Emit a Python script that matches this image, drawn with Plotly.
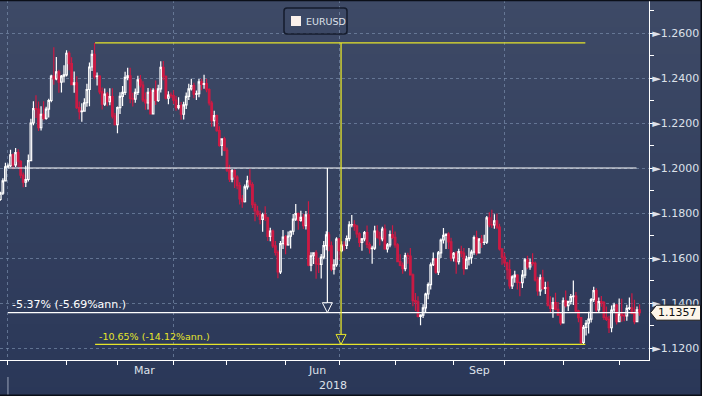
import pandas as pd
import plotly.graph_objects as go

# ---------------- data (EURUSD daily candles) ----------------
OPEN = [
    1.1860, 1.1888, 1.1943,
    1.2005, 1.2010, 1.2058, 1.2014, 1.2068,
    1.2030, 1.1968, 1.1937, 1.1949, 1.2033,
    1.2200, 1.2264, 1.2262, 1.2179, 1.2239,
    1.2221, 1.2262, 1.2300, 1.2408, 1.2396,
    1.2427, 1.2382, 1.2408, 1.2414, 1.2510,
    1.2464, 1.2370, 1.2378, 1.2268, 1.2250,
    1.2253, 1.2290, 1.2349, 1.2449, 1.2505,
    1.2406, 1.2408, 1.2338, 1.2284, 1.2328,
    1.2295, 1.2317, 1.2231, 1.2193, 1.2268,
    1.2318, 1.2336, 1.2403, 1.2410, 1.2309,
    1.2306, 1.2336, 1.2392, 1.2369, 1.2303,
    1.2289, 1.2336, 1.2241, 1.2345, 1.2300,
    1.2352, 1.2447, 1.2407, 1.2310, 1.2324,
    1.2322, 1.2302, 1.2268, 1.2277, 1.2239,
    1.2281, 1.2318, 1.2352, 1.2366, 1.2328,
    1.2330, 1.2383, 1.2372, 1.2375, 1.2348,
    1.2289, 1.2211, 1.2233, 1.2166, 1.2101,
    1.2130, 1.2078, 1.1990, 1.1951, 1.1988,
    1.1960, 1.1922, 1.1863, 1.1850, 1.1916,
    1.1943, 1.1926, 1.1837, 1.1809, 1.1794,
    1.1772, 1.1792, 1.1778, 1.1696, 1.1720,
    1.1654, 1.1625, 1.1538, 1.1664, 1.1693,
    1.1658, 1.1697, 1.1719, 1.1773, 1.1797,
    1.1767, 1.1781, 1.1744, 1.1792, 1.1568,
    1.1610, 1.1623, 1.1574, 1.1572, 1.1604,
    1.1655, 1.1703, 1.1654, 1.1551, 1.1570,
    1.1684, 1.1633, 1.1657, 1.1656, 1.1686,
    1.1747, 1.1749, 1.1742, 1.1707, 1.1669,
    1.1685, 1.1713, 1.1660, 1.1642, 1.1644,
    1.1720, 1.1693, 1.1685, 1.1728, 1.1640,
    1.1658, 1.1704, 1.1692, 1.1658, 1.1584,
    1.1567, 1.1553, 1.1611, 1.1609, 1.1525,
    1.1411, 1.1405, 1.1341, 1.1346, 1.1378,
    1.1440, 1.1482, 1.1570, 1.1596, 1.1537,
    1.1623, 1.1680, 1.1701, 1.1706, 1.1672,
    1.1601, 1.1621, 1.1584, 1.1628, 1.1622,
    1.1553, 1.1595, 1.1602, 1.1626, 1.1691,
    1.1623, 1.1684, 1.1669, 1.1670, 1.1778,
    1.1748, 1.1747, 1.1765, 1.1737, 1.1641,
    1.1604, 1.1578, 1.1548, 1.1476, 1.1516,
    1.1524, 1.1492, 1.1491, 1.1524, 1.1592,
    1.1560, 1.1580, 1.1576, 1.1503, 1.1454,
    1.1512, 1.1465, 1.1469, 1.1390, 1.1376,
    1.1402, 1.1372, 1.1346, 1.1312, 1.1410,
    1.1388, 1.1407, 1.1428, 1.1431, 1.1365,
    1.1335, 1.1225, 1.1292, 1.1310, 1.1328,
    1.1415, 1.1455, 1.1369, 1.1406, 1.1402,
    1.1336, 1.1327, 1.1290, 1.1369, 1.1391,
    1.1317, 1.1351, 1.1344, 1.1343, 1.1376,
    1.1378, 1.1354, 1.1317, 1.1370,
]
HIGH = [
    1.1895, 1.1955, 1.2023,
    1.2020, 1.2081, 1.2065, 1.2089, 1.2083,
    1.2034, 1.1980, 1.2010, 1.2060, 1.2219,
    1.2297, 1.2323, 1.2296, 1.2274, 1.2297,
    1.2272, 1.2308, 1.2415, 1.2537, 1.2493,
    1.2437, 1.2413, 1.2457, 1.2523, 1.2519,
    1.2492, 1.2429, 1.2408, 1.2296, 1.2288,
    1.2310, 1.2374, 1.2469, 1.2525, 1.2556,
    1.2424, 1.2412, 1.2358, 1.2353, 1.2338,
    1.2355, 1.2354, 1.2244, 1.2273, 1.2337,
    1.2365, 1.2428, 1.2446, 1.2446, 1.2335,
    1.2353, 1.2410, 1.2413, 1.2386, 1.2336,
    1.2356, 1.2355, 1.2355, 1.2389, 1.2370,
    1.2475, 1.2476, 1.2411, 1.2341, 1.2336,
    1.2346, 1.2320, 1.2314, 1.2293, 1.2295,
    1.2336, 1.2375, 1.2397, 1.2379, 1.2345,
    1.2396, 1.2397, 1.2414, 1.2397, 1.2355,
    1.2299, 1.2255, 1.2238, 1.2186, 1.2132,
    1.2139, 1.2091, 1.2015, 1.1996, 1.1995,
    1.1968, 1.1937, 1.1880, 1.1927, 1.1966,
    1.1995, 1.1937, 1.1848, 1.1832, 1.1810,
    1.1801, 1.1830, 1.1783, 1.1734, 1.1727,
    1.1676, 1.1634, 1.1676, 1.1724, 1.1702,
    1.1718, 1.1722, 1.1796, 1.1840, 1.1802,
    1.1810, 1.1797, 1.1809, 1.1852, 1.1626,
    1.1624, 1.1634, 1.1601, 1.1618, 1.1676,
    1.1719, 1.1716, 1.1673, 1.1594, 1.1692,
    1.1690, 1.1674, 1.1675, 1.1700, 1.1763,
    1.1791, 1.1768, 1.1748, 1.1714, 1.1689,
    1.1720, 1.1745, 1.1670, 1.1654, 1.1743,
    1.1746, 1.1717, 1.1739, 1.1749, 1.1667,
    1.1722, 1.1746, 1.1718, 1.1666, 1.1617,
    1.1580, 1.1623, 1.1623, 1.1644, 1.1531,
    1.1444, 1.1430, 1.1350, 1.1394, 1.1446,
    1.1491, 1.1580, 1.1624, 1.1598, 1.1631,
    1.1687, 1.1733, 1.1709, 1.1714, 1.1690,
    1.1627, 1.1630, 1.1641, 1.1655, 1.1644,
    1.1610, 1.1645, 1.1637, 1.1700, 1.1721,
    1.1689, 1.1702, 1.1703, 1.1787, 1.1803,
    1.1815, 1.1795, 1.1798, 1.1752, 1.1643,
    1.1623, 1.1583, 1.1592, 1.1523, 1.1543,
    1.1528, 1.1494, 1.1547, 1.1600, 1.1610,
    1.1597, 1.1621, 1.1585, 1.1517, 1.1527,
    1.1548, 1.1494, 1.1496, 1.1430, 1.1425,
    1.1446, 1.1404, 1.1360, 1.1425, 1.1456,
    1.1410, 1.1440, 1.1500, 1.1449, 1.1370,
    1.1336, 1.1302, 1.1325, 1.1361, 1.1422,
    1.1472, 1.1466, 1.1425, 1.1431, 1.1409,
    1.1385, 1.1343, 1.1389, 1.1401, 1.1397,
    1.1420, 1.1419, 1.1359, 1.1392, 1.1424,
    1.1443, 1.1415, 1.1384, 1.1394,
]
LOW = [
    1.1855, 1.1880, 1.1940,
    1.2000, 1.2005, 1.1995, 1.2005, 1.2005,
    1.1955, 1.1915, 1.1916, 1.1940, 1.2030,
    1.2190, 1.2222, 1.2165, 1.2167, 1.2212,
    1.2215, 1.2225, 1.2292, 1.2370, 1.2390,
    1.2335, 1.2336, 1.2380, 1.2407, 1.2434,
    1.2368, 1.2335, 1.2262, 1.2216, 1.2206,
    1.2252, 1.2272, 1.2275, 1.2431, 1.2395,
    1.2367, 1.2328, 1.2260, 1.2276, 1.2275,
    1.2279, 1.2220, 1.2189, 1.2155, 1.2240,
    1.2276, 1.2324, 1.2390, 1.2288, 1.2273,
    1.2290, 1.2325, 1.2358, 1.2293, 1.2259,
    1.2260, 1.2240, 1.2240, 1.2280, 1.2293,
    1.2336, 1.2390, 1.2304, 1.2283, 1.2311,
    1.2284, 1.2255, 1.2260, 1.2215, 1.2216,
    1.2262, 1.2302, 1.2345, 1.2310, 1.2302,
    1.2315, 1.2346, 1.2352, 1.2337, 1.2278,
    1.2183, 1.2185, 1.2161, 1.2094, 1.2054,
    1.2074, 1.1982, 1.1938, 1.1937, 1.1911,
    1.1906, 1.1838, 1.1823, 1.1847, 1.1904,
    1.1914, 1.1822, 1.1763, 1.1783, 1.1750,
    1.1717, 1.1765, 1.1676, 1.1674, 1.1644,
    1.1611, 1.1510, 1.1529, 1.1640, 1.1617,
    1.1655, 1.1642, 1.1703, 1.1765, 1.1726,
    1.1761, 1.1729, 1.1727, 1.1563, 1.1541,
    1.1573, 1.1508, 1.1533, 1.1509, 1.1595,
    1.1635, 1.1630, 1.1541, 1.1527, 1.1561,
    1.1591, 1.1626, 1.1633, 1.1640, 1.1675,
    1.1737, 1.1721, 1.1690, 1.1649, 1.1632,
    1.1675, 1.1644, 1.1620, 1.1575, 1.1636,
    1.1687, 1.1656, 1.1674, 1.1637, 1.1625,
    1.1648, 1.1683, 1.1646, 1.1583, 1.1563,
    1.1530, 1.1541, 1.1575, 1.1525, 1.1386,
    1.1365, 1.1336, 1.1301, 1.1333, 1.1359,
    1.1417, 1.1460, 1.1565, 1.1530, 1.1525,
    1.1600, 1.1665, 1.1640, 1.1640, 1.1586,
    1.1584, 1.1530, 1.1571, 1.1603, 1.1526,
    1.1550, 1.1567, 1.1575, 1.1614, 1.1612,
    1.1620, 1.1645, 1.1658, 1.1662, 1.1737,
    1.1733, 1.1730, 1.1728, 1.1633, 1.1570,
    1.1563, 1.1505, 1.1463, 1.1462, 1.1490,
    1.1460, 1.1430, 1.1467, 1.1510, 1.1550,
    1.1548, 1.1566, 1.1496, 1.1432, 1.1432,
    1.1458, 1.1440, 1.1385, 1.1359, 1.1335,
    1.1368, 1.1344, 1.1301, 1.1309, 1.1380,
    1.1364, 1.1393, 1.1391, 1.1355, 1.1315,
    1.1216, 1.1216, 1.1256, 1.1265, 1.1313,
    1.1405, 1.1357, 1.1360, 1.1383, 1.1325,
    1.1320, 1.1267, 1.1270, 1.1359, 1.1305,
    1.1314, 1.1317, 1.1319, 1.1321, 1.1369,
    1.1350, 1.1306, 1.1314, 1.1343,
]
CLOSE = [
    1.1888, 1.1943, 1.2005,
    1.2010, 1.2058, 1.2014, 1.2068, 1.2030,
    1.1968, 1.1937, 1.1949, 1.2033, 1.2200,
    1.2264, 1.2262, 1.2179, 1.2239, 1.2221,
    1.2262, 1.2300, 1.2408, 1.2396, 1.2427,
    1.2382, 1.2408, 1.2414, 1.2510, 1.2464,
    1.2370, 1.2378, 1.2268, 1.2250, 1.2253,
    1.2290, 1.2349, 1.2449, 1.2505, 1.2406,
    1.2408, 1.2338, 1.2284, 1.2328, 1.2295,
    1.2317, 1.2231, 1.2193, 1.2268, 1.2318,
    1.2336, 1.2403, 1.2410, 1.2309, 1.2306,
    1.2336, 1.2392, 1.2369, 1.2303, 1.2289,
    1.2336, 1.2241, 1.2345, 1.2300, 1.2352,
    1.2447, 1.2407, 1.2310, 1.2324, 1.2322,
    1.2302, 1.2268, 1.2277, 1.2239, 1.2281,
    1.2318, 1.2352, 1.2366, 1.2328, 1.2330,
    1.2383, 1.2372, 1.2375, 1.2348, 1.2289,
    1.2211, 1.2233, 1.2166, 1.2101, 1.2130,
    1.2078, 1.1990, 1.1951, 1.1988, 1.1960,
    1.1922, 1.1863, 1.1850, 1.1916, 1.1943,
    1.1926, 1.1837, 1.1809, 1.1794, 1.1772,
    1.1792, 1.1778, 1.1696, 1.1720, 1.1654,
    1.1625, 1.1538, 1.1664, 1.1693, 1.1658,
    1.1697, 1.1719, 1.1773, 1.1797, 1.1767,
    1.1781, 1.1744, 1.1792, 1.1568, 1.1610,
    1.1623, 1.1574, 1.1572, 1.1604, 1.1655,
    1.1703, 1.1654, 1.1551, 1.1570, 1.1684,
    1.1633, 1.1657, 1.1656, 1.1686, 1.1747,
    1.1749, 1.1742, 1.1707, 1.1669, 1.1685,
    1.1713, 1.1660, 1.1642, 1.1644, 1.1720,
    1.1693, 1.1685, 1.1728, 1.1640, 1.1658,
    1.1704, 1.1692, 1.1658, 1.1584, 1.1567,
    1.1553, 1.1611, 1.1609, 1.1525, 1.1411,
    1.1405, 1.1341, 1.1346, 1.1378, 1.1440,
    1.1482, 1.1570, 1.1596, 1.1537, 1.1623,
    1.1680, 1.1701, 1.1706, 1.1672, 1.1601,
    1.1621, 1.1584, 1.1628, 1.1622, 1.1553,
    1.1595, 1.1602, 1.1626, 1.1691, 1.1623,
    1.1684, 1.1669, 1.1670, 1.1778, 1.1748,
    1.1747, 1.1765, 1.1737, 1.1641, 1.1604,
    1.1578, 1.1548, 1.1476, 1.1516, 1.1524,
    1.1492, 1.1491, 1.1524, 1.1592, 1.1560,
    1.1580, 1.1576, 1.1503, 1.1454, 1.1512,
    1.1465, 1.1469, 1.1390, 1.1376, 1.1402,
    1.1372, 1.1346, 1.1312, 1.1410, 1.1388,
    1.1407, 1.1428, 1.1431, 1.1365, 1.1335,
    1.1225, 1.1292, 1.1310, 1.1328, 1.1415,
    1.1455, 1.1369, 1.1406, 1.1402, 1.1336,
    1.1327, 1.1290, 1.1369, 1.1391, 1.1317,
    1.1351, 1.1344, 1.1343, 1.1376, 1.1378,
    1.1354, 1.1317, 1.1370, 1.1357,
]
assert len(OPEN) == len(HIGH) == len(LOW) == len(CLOSE)

FIRST_DAY = "2017-12-27"          # first trading day shown (weekdays only)
DATES = pd.bdate_range(FIRST_DAY, periods=len(CLOSE))

SERIES_NAME = "EURUSD"
Y_TICKS = [1.12, 1.14, 1.16, 1.18, 1.20, 1.22, 1.24, 1.26]
Y_TICKTEXT = ["\u25BA" + f"{v:.4f}" for v in Y_TICKS]
QUARTER_STARTS = ["2018-01-01", "2018-04-02", "2018-07-02", "2018-10-01"]
MONTH_STARTS = ["2018-01-01", "2018-02-01", "2018-03-01", "2018-04-02", "2018-05-01",
                "2018-06-01", "2018-07-02", "2018-08-01", "2018-09-03", "2018-10-01",
                "2018-11-01", "2018-12-03"]
MONTH_LABELS = ["Mar", "Jun", "Sep"]
MONTH_LABEL_AT = ["2018-03-15 19:00", "2018-06-19 05:00", "2018-09-17 07:00"]
YEAR_LABEL = "2018"
YEAR_LABEL_AT = "2018-06-27 16:00"

# analysis-tool lines drawn on the chart
LEVEL_WHITE = 1.2000
HIGH_MARK = max(HIGH)
LOW_MARK = min(LOW)
LAST = CLOSE[-1]
WHITE_START = "2018-01-01"
WHITE_END_TOP = "2018-12-11 19:00"
WHITE_END_BOTTOM = "2018-12-12 12:00"
WHITE_VERT = "2018-06-25 10:00"
YELLOW_START = "2018-02-16 05:00"
YELLOW_END = "2018-11-13 17:00"
YELLOW_VERT = "2018-07-02 19:00"
WHITE_LABEL = "-5.37% (-5.69%ann.)"
WHITE_LABEL_AT = "2018-01-01 19:00"
YELLOW_LABEL = "-10.65% (-14.12%ann.)"
YELLOW_LABEL_AT = "2018-02-19 00:00"

X_RANGE = ["2017-12-26 21:00", "2018-12-18 17:00"]
Y_RANGE = [1.11467, 1.27467]

# ---------------- styling ----------------
W, H = 702, 396
ML, MR, MT, MB = 0, 53, 0, 36
PW, PH = W - ML - MR, H - MT - MB
FONT = "DejaVu Sans"
TXT = "#dde1ea"
RED = "#cc1a44"
YEL = "#e6e52a"
GRID = "rgba(125,145,175,0.65)"
TOP_RGB = (62, 74, 102)
BOT_RGB = (42, 55, 88)


def px_x(v):
    return (v - ML) / PW


def px_y(v):
    return (MT + PH - v) / PH


def px_dy(v):  # pixel height -> price units
    return v * (Y_RANGE[1] - Y_RANGE[0]) / PH


fig = go.Figure()

fig.add_trace(go.Candlestick(
    x=DATES, open=OPEN, high=HIGH, low=LOW, close=CLOSE, name=SERIES_NAME,
    increasing=dict(line=dict(color="white", width=1.2), fillcolor="rgba(0,0,0,0)"),
    decreasing=dict(line=dict(color=RED, width=1.2), fillcolor=RED),
    whiskerwidth=0, showlegend=False, hoverinfo="skip",
))

# white measurement
fig.add_trace(go.Scatter(
    x=[WHITE_START, WHITE_END_TOP, None, WHITE_START, WHITE_END_BOTTOM, None, WHITE_VERT, WHITE_VERT],
    y=[LEVEL_WHITE, LEVEL_WHITE, None, LAST, LAST, None, LEVEL_WHITE, LAST + px_dy(10)],
    mode="lines", line=dict(color="white", width=1.2), showlegend=False, hoverinfo="skip"))
# yellow measurement
fig.add_trace(go.Scatter(
    x=[YELLOW_START, YELLOW_END, None, YELLOW_START, YELLOW_END, None, YELLOW_VERT, YELLOW_VERT],
    y=[HIGH_MARK, HIGH_MARK, None, LOW_MARK, LOW_MARK, None, HIGH_MARK, LOW_MARK + px_dy(10)],
    mode="lines", line=dict(color=YEL, width=1.3), showlegend=False, hoverinfo="skip"))
# arrow heads
fig.add_trace(go.Scatter(
    x=[WHITE_VERT], y=[LAST], mode="markers",
    marker=dict(symbol="arrow-down-open", size=10, color="white", line=dict(color="white", width=1)),
    showlegend=False, hoverinfo="skip"))
fig.add_trace(go.Scatter(
    x=[YELLOW_VERT], y=[LOW_MARK], mode="markers",
    marker=dict(symbol="arrow-down-open", size=10, color=YEL, line=dict(color=YEL, width=1)),
    showlegend=False, hoverinfo="skip"))

shapes = []
# background gradient
N = 44
y_bot, y_top = px_y(H), px_y(0)
for i in range(N):
    t = (i + 0.5) / N
    c = tuple(round(BOT_RGB[k] + (TOP_RGB[k] - BOT_RGB[k]) * t) for k in range(3))
    shapes.append(dict(type="rect", xref="paper", yref="paper", layer="below",
                       x0=px_x(0) - 0.01, x1=px_x(W) + 0.01,
                       y0=y_bot + (y_top - y_bot) * i / N, y1=y_bot + (y_top - y_bot) * (i + 1) / N + 0.002,
                       fillcolor="rgb(%d,%d,%d)" % c, line=dict(width=0)))
# year separator under the axis
shapes.append(dict(type="line", xref="x", yref="paper", x0=QUARTER_STARTS[0], x1=QUARTER_STARTS[0],
                   y0=px_y(377), y1=px_y(396), line=dict(color="#9aa3b8", width=1)))
# legend box (rounded)
lx0, lx1, ly0, ly1, r = 284, 347, 8, 34, 3
path = (f"M {px_x(lx0 + r)},{px_y(ly0)} L {px_x(lx1 - r)},{px_y(ly0)} "
        f"Q {px_x(lx1)},{px_y(ly0)} {px_x(lx1)},{px_y(ly0 + r)} L {px_x(lx1)},{px_y(ly1 - r)} "
        f"Q {px_x(lx1)},{px_y(ly1)} {px_x(lx1 - r)},{px_y(ly1)} L {px_x(lx0 + r)},{px_y(ly1)} "
        f"Q {px_x(lx0)},{px_y(ly1)} {px_x(lx0)},{px_y(ly1 - r)} L {px_x(lx0)},{px_y(ly0 + r)} "
        f"Q {px_x(lx0)},{px_y(ly0)} {px_x(lx0 + r)},{px_y(ly0)} Z")
shapes.append(dict(type="path", xref="paper", yref="paper", path=path,
                   line=dict(color="#141b2c", width=1.5), fillcolor="rgba(0,0,0,0)"))
shapes.append(dict(type="rect", xref="paper", yref="paper", x0=px_x(291), x1=px_x(301),
                   y0=px_y(26), y1=px_y(16), fillcolor="#fbf1ec", line=dict(width=0)))
# last-price tag
tag = (f"M {px_x(650.5)},{LAST} L {px_x(656.5)},{LAST + px_dy(7.5)} L {px_x(700.5)},{LAST + px_dy(7.5)} "
       f"L {px_x(700.5)},{LAST - px_dy(7.5)} L {px_x(656.5)},{LAST - px_dy(7.5)} Z")
shapes.append(dict(type="path", xref="paper", yref="y", path=tag, layer="above",
                   fillcolor="#fdf6ea", line=dict(color="#1a1a1a", width=1)))
# outer dark frame (top, right, bottom)
for x0, y0, x1, y1 in [(0, 0.5, W, 0.5), (W - 0.75, 0, W - 0.75, H), (0, H - 0.75, W, H - 0.75)]:
    shapes.append(dict(type="line", xref="paper", yref="paper", x0=px_x(x0), y0=px_y(y0),
                       x1=px_x(x1), y1=px_y(y1), line=dict(color="#0b0f18", width=1.5)))

annotations = []
for lab, at in zip(MONTH_LABELS, MONTH_LABEL_AT):
    annotations.append(dict(x=at, xref="x", y=px_y(370.5), yref="paper", text=lab, showarrow=False,
                            xanchor="center", yanchor="middle", font=dict(family=FONT, size=11, color=TXT)))
annotations.append(dict(x=YEAR_LABEL_AT, xref="x", y=px_y(385.5), yref="paper", text=YEAR_LABEL,
                        showarrow=False, xanchor="center", yanchor="middle",
                        font=dict(family=FONT, size=11, color=TXT)))
annotations.append(dict(x=WHITE_LABEL_AT, xref="x", y=LAST, yref="y", text=WHITE_LABEL, showarrow=False,
                        xanchor="left", yanchor="bottom", font=dict(family=FONT, size=11, color="white")))
annotations.append(dict(x=YELLOW_LABEL_AT, xref="x", y=LOW_MARK, yref="y", text=YELLOW_LABEL,
                        showarrow=False, xanchor="left", yanchor="bottom",
                        font=dict(family=FONT, size=9.5, color=YEL)))
annotations.append(dict(x=px_x(304), xref="paper", y=px_y(21.5), yref="paper", text=SERIES_NAME,
                        showarrow=False, xanchor="left", yanchor="middle",
                        font=dict(family=FONT, size=9.5, color=TXT)))
annotations.append(dict(x=px_x(677.5), xref="paper", y=LAST, yref="y", text=f"{LAST:.4f}", showarrow=False,
                        xanchor="center", yanchor="middle", font=dict(family=FONT, size=11, color="#111111")))

fig.update_layout(
    width=W, height=H, margin=dict(l=ML, r=MR, t=MT, b=MB, pad=0),
    paper_bgcolor="rgb(%d,%d,%d)" % BOT_RGB, plot_bgcolor="rgba(0,0,0,0)",
    showlegend=False, shapes=shapes, annotations=annotations,
    boxgap=0.12,
    xaxis=dict(
        type="date", range=X_RANGE, rangebreaks=[dict(bounds=["sat", "mon"])],
        rangeslider=dict(visible=False),
        tickmode="array", tickvals=QUARTER_STARTS, ticktext=[""] * len(QUARTER_STARTS),
        ticks="outside", ticklen=4, tickcolor="white", tickwidth=1,
        showgrid=True, gridcolor=GRID, griddash="dot", gridwidth=1,
        minor=dict(tickmode="array", tickvals=MONTH_STARTS, ticks="outside", ticklen=4,
                   tickcolor="white", tickwidth=1, showgrid=False),
        showline=True, linecolor="white", linewidth=1, zeroline=False, fixedrange=True,
    ),
    yaxis=dict(
        side="right", range=Y_RANGE, tickmode="array", tickvals=Y_TICKS, ticktext=Y_TICKTEXT,
        ticks="", ticklabelstandoff=0,
        tickfont=dict(family=FONT, size=11, color=TXT),
        showgrid=True, gridcolor=GRID, griddash="dot", gridwidth=1,
        minor=dict(tickmode="linear", tick0=1.11, dtick=0.01, ticks="outside", ticklen=4,
                   tickcolor="white", tickwidth=1, showgrid=False),
        showline=True, linecolor="white", linewidth=1, zeroline=False, fixedrange=True,
    ),
)

fig.write_html(
    "out.html",
    config={"displayModeBar": False},
    post_script="document.body.style.margin='0px';document.body.style.padding='0px';"
                "document.body.style.overflow='hidden';",
)
